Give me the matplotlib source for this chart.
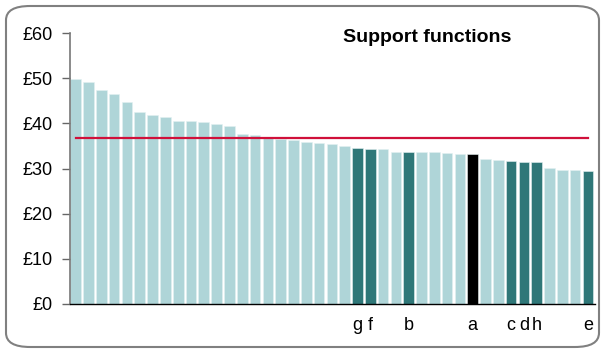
import matplotlib
matplotlib.use("Agg")
import matplotlib.pyplot as plt
from matplotlib.patches import FancyBboxPatch

plt.rcParams['font.family'] = ['Liberation Sans', 'DejaVu Sans']

values = [49.8, 49.1, 47.3, 46.4, 44.8, 42.6, 41.8, 41.5, 40.5, 40.5,
          40.3, 39.8, 39.4, 37.6, 37.5, 36.7, 36.6, 36.3, 35.9, 35.7,
          35.5, 35.0, 34.6, 34.3, 34.3, 33.7, 33.7, 33.6, 33.6, 33.4,
          33.3, 33.3, 32.2, 31.8, 31.7, 31.4, 31.4, 30.1, 29.7, 29.6,
          29.4]
# category for each bar: 0 = other, 1 = highlighted, 2 = own
groups = [0]*22 + [1, 1, 0, 0, 1, 0, 0, 0, 0, 2, 0, 0, 1, 1, 1, 0, 0, 0, 1]
labels = [""]*22 + ["g", "f", "", "", "b", "", "", "", "", "a", "", "",
                    "c", "d", "h", "", "", "", "e"]
average = 36.7
yticks = [0, 10, 20, 30, 40, 50, 60]
ytick_labels = ["£0", "£10", "£20", "£30", "£40", "£50", "£60"]
title = "Support functions"

palette = {0: "#afd5d8", 1: "#2f7778", 2: "#000000"}

fig = plt.figure(figsize=(6.04, 3.52), dpi=100)
ax = fig.add_axes([70/604, 1-304/352, 525/604, (304-33)/352])

x = list(range(len(values)))
ax.bar(x, values, width=0.83, color=[palette[g] for g in groups],
       edgecolor="#e4f1f2", linewidth=0.4)
ax.plot([x[0], x[-1]], [average, average], color="#d0103a", lw=1.6)

ax.set_ylim(0, 60)
ax.set_xlim(-0.45, len(values) - 0.45)
ax.set_yticks(yticks)
ax.set_yticklabels(ytick_labels, fontsize=13)
ax.set_xticks(x)
ax.set_xticklabels(labels, fontsize=13)
ax.tick_params(axis='x', length=0, pad=9.5)
ax.tick_params(axis='y', length=5.5, width=1, color="#666666", pad=7)
for s in ["top", "right"]:
    ax.spines[s].set_visible(False)
ax.spines["left"].set_color("#777777")
ax.spines["left"].set_linewidth(1.2)
ax.spines["bottom"].set_color("#000000")
ax.spines["bottom"].set_linewidth(1.0)

fig.text(427/604, 1-41.7/352, title, ha="center", va="baseline",
         fontsize=14, fontweight="bold")

border = FancyBboxPatch((6/604, 5/352), 593/604, 341/352,
                        boxstyle="round,pad=0,rounding_size=0.04",
                        transform=fig.transFigure, fill=False,
                        edgecolor="#808080", linewidth=1.5)
fig.patches.append(border)

fig.savefig("out.png", dpi=100)
